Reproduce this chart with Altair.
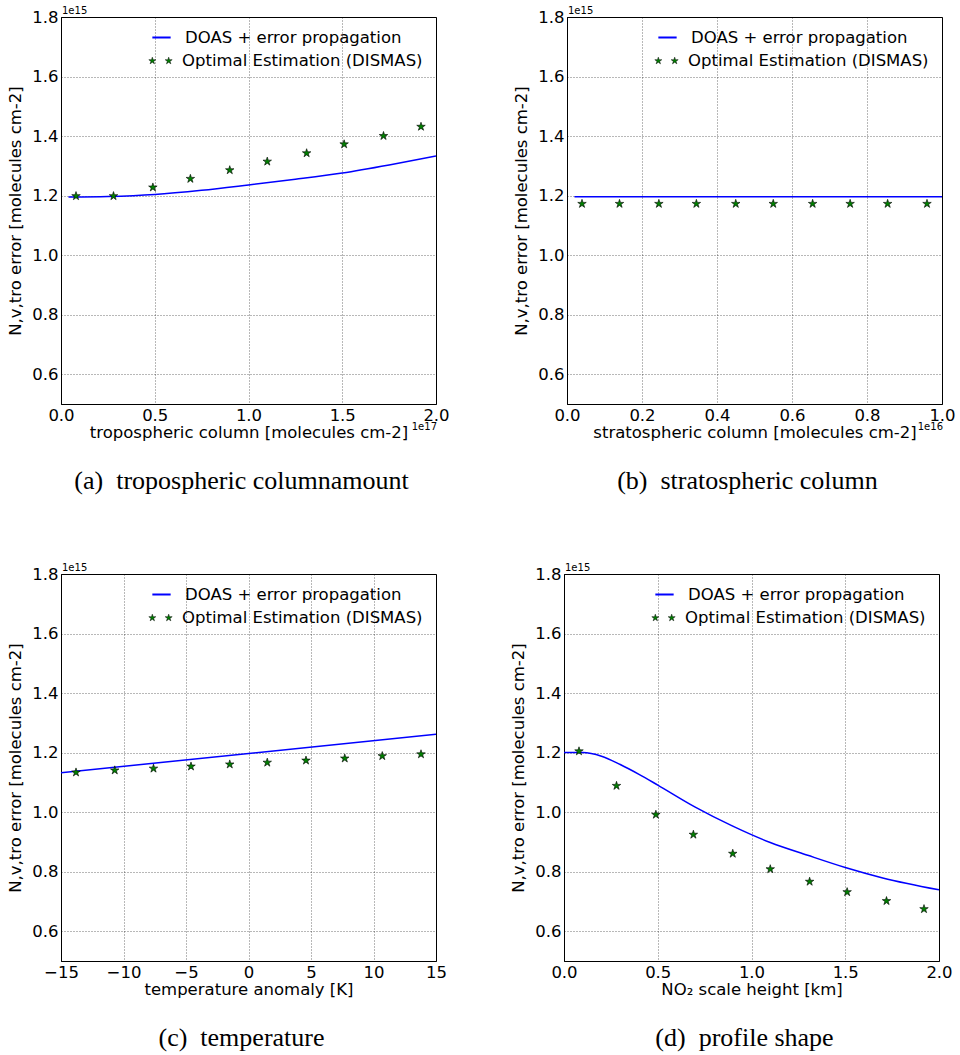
import math
import altair as alt
import pandas as pd

# ---------------- data ----------------
LINE_NAME = "DOAS + error propagation"
PTS_NAME = "Optimal Estimation (DISMAS)"

Y_TICKS = [0.6, 0.8, 1.0, 1.2, 1.4, 1.6, 1.8]

# (a) tropospheric column (x in 1e17 molecules cm-2, y in 1e15)
a_line_x = [0.04, 0.25, 0.5, 0.75, 1.0, 1.25, 1.5, 1.75, 2.0]
a_line_y = [1.195, 1.197, 1.204, 1.218, 1.236, 1.255, 1.276, 1.303, 1.333]
a_pts_x = [0.08, 0.28, 0.49, 0.69, 0.90, 1.10, 1.31, 1.51, 1.72, 1.92]
a_pts_y = [1.200, 1.200, 1.229, 1.258, 1.287, 1.316, 1.344, 1.374, 1.402, 1.433]
a_xticks = [0.0, 0.5, 1.0, 1.5, 2.0]

# (b) stratospheric column (x in 1e16)
b_line_x = [0.02, 1.0]
b_line_y = [1.196, 1.196]
b_pts_x = [0.04, 0.14, 0.245, 0.345, 0.45, 0.55, 0.655, 0.755, 0.855, 0.96]
b_pts_y = [1.174, 1.174, 1.174, 1.174, 1.174, 1.174, 1.174, 1.174, 1.174, 1.174]
b_xticks = [0.0, 0.2, 0.4, 0.6, 0.8, 1.0]

# (c) temperature anomaly [K]
c_line_x = [-15, 15]
c_line_y = [1.1325, 1.2615]
c_pts_x = [-13.8, -10.7, -7.6, -4.6, -1.5, 1.5, 4.6, 7.7, 10.7, 13.8]
c_pts_y = [1.135, 1.142, 1.148, 1.155, 1.162, 1.168, 1.175, 1.182, 1.190, 1.196]
c_xticks = [-15, -10, -5, 0, 5, 10, 15]

# (d) NO2 scale height [km]
d_line_x = [0.0, 0.1, 0.2, 0.3, 0.4, 0.5, 0.7, 0.9, 1.1, 1.3, 1.5, 1.7, 2.0]
d_line_y = [1.200, 1.200, 1.188, 1.160, 1.127, 1.091, 1.017, 0.953, 0.898, 0.855, 0.814, 0.779, 0.739]
d_pts_x = [0.08, 0.28, 0.49, 0.69, 0.90, 1.10, 1.31, 1.51, 1.72, 1.92]
d_pts_y = [1.206, 1.090, 0.993, 0.926, 0.862, 0.810, 0.768, 0.733, 0.703, 0.676]
d_xticks = [0.0, 0.5, 1.0, 1.5, 2.0]

# ---------------- styling ----------------
FONT = "DejaVu Sans"
SERIF = "Liberation Serif"
BLUE = "#0000ff"
GREEN = "#008000"
FS = 16.5
Y_TITLE = "N,v,tro error [molecules cm-2]"


def star(cx, cy, r):
    pts = []
    for i in range(10):
        ang = math.radians(-90 + 36 * i)
        rr = r if i % 2 == 0 else r * 0.382
        pts.append((cx + rr * math.cos(ang), cy + rr * math.sin(ang)))
    return "M" + "L".join(f"{x:.4f},{y:.4f}" for x, y in pts) + "Z"


STAR = star(0, 0.095, 1.0)
TWO_STARS = star(-0.69, 0.03, 0.31) + star(0.69, 0.03, 0.31)


def panel(lx, ly, px, py, xdom, xticks, xfmt, xtitle, exp_label, caption):
    line_df = pd.DataFrame({"x": lx, "y": ly, "series": LINE_NAME})
    pts_df = pd.DataFrame({"x": px, "y": py, "series": PTS_NAME})
    xscale = alt.Scale(domain=xdom, nice=False, zero=False)
    yscale = alt.Scale(domain=[0.5, 1.8], nice=False, zero=False)
    xaxis = alt.Axis(values=xticks, format=xfmt, title=xtitle, labelPadding=3,
                     titlePadding=1, labelFlush=False, labelOverlap=False)
    yaxis = alt.Axis(values=Y_TICKS, format=".1f", title=Y_TITLE, labelPadding=3,
                     titlePadding=8, labelOverlap=False)

    line = alt.Chart(line_df).mark_line(strokeWidth=1.5, clip=True,
                                        interpolate="monotone").encode(
        x=alt.X("x:Q", scale=xscale, axis=xaxis),
        y=alt.Y("y:Q", scale=yscale, axis=yaxis),
        color=alt.Color(
            "series:N",
            scale=alt.Scale(domain=[LINE_NAME], range=[BLUE]),
            legend=alt.Legend(title=None, orient="none", legendX=90, legendY=10,
                              symbolType="stroke", symbolSize=335, symbolStrokeWidth=2,
                              labelOffset=13, labelFontSize=FS, labelFont=FONT,
                              labelColor="black", labelLimit=0, padding=0),
        ),
    )
    pts = alt.Chart(pts_df).mark_point(shape=STAR, filled=True, size=80, stroke="black",
                                       strokeWidth=0.6, opacity=1).encode(
        x=alt.X("x:Q", scale=xscale),
        y=alt.Y("y:Q", scale=yscale),
        fill=alt.Fill(
            "series:N",
            scale=alt.Scale(domain=[PTS_NAME], range=[GREEN]),
            legend=alt.Legend(title=None, orient="none", legendX=87, legendY=31,
                              symbolType=TWO_STARS, symbolSize=562,
                              symbolStrokeColor="black", symbolStrokeWidth=0.5,
                              symbolOpacity=1,
                              labelOffset=9, labelFontSize=FS, labelFont=FONT,
                              labelColor="black", labelLimit=0, padding=0),
        ),
    )
    top_df = pd.DataFrame({"x": [xdom[0]], "y": [1.8], "t": ["1e15"]})
    top_txt = alt.Chart(top_df).mark_text(align="left", baseline="alphabetic", dx=1, dy=-3,
                                          fontSize=10, font=FONT, color="black").encode(
        x=alt.X("x:Q", scale=xscale), y=alt.Y("y:Q", scale=yscale), text="t:N")
    layers = [line, pts, top_txt]
    if exp_label:
        exp_df = pd.DataFrame({"x": [xdom[1]], "y": [0.5], "t": [exp_label]})
        exp_txt = alt.Chart(exp_df).mark_text(align="right", baseline="alphabetic", dx=1,
                                              dy=26, fontSize=10, font=FONT,
                                              color="black").encode(
            x=alt.X("x:Q", scale=xscale), y=alt.Y("y:Q", scale=yscale), text="t:N")
        layers.append(exp_txt)
    return alt.layer(*layers).properties(
        width=375, height=387,
        title=alt.TitleParams(caption, orient="bottom", font=SERIF, fontSize=26,
                              fontWeight="normal", color="black", offset=27,
                              anchor="middle", frame="group", dx=-7),
    )


pa = panel(a_line_x, a_line_y, a_pts_x, a_pts_y, [0, 2], a_xticks, ".1f",
           "tropospheric column [molecules cm-2]", "1e17",
           "(a)\u2002tropospheric columnamount")
pb = panel(b_line_x, b_line_y, b_pts_x, b_pts_y, [0, 1], b_xticks, ".1f",
           "stratospheric column [molecules cm-2]", "1e16",
           "(b)\u2002stratospheric column")
pc = panel(c_line_x, c_line_y, c_pts_x, c_pts_y, [-15, 15], c_xticks, "d",
           "temperature anomaly [K]", None, "(c)\u2002temperature")
pd_ = panel(d_line_x, d_line_y, d_pts_x, d_pts_y, [0, 2], d_xticks, ".1f",
            "NO\u2082 scale height [km]", None, "(d)\u2002profile shape")

res = dict(color="independent", fill="independent")
row1 = alt.hconcat(pa, pb, spacing=63).resolve_scale(**res).resolve_legend(**res)
row2 = alt.hconcat(pc, pd_, spacing=63).resolve_scale(**res).resolve_legend(**res)

chart = alt.vconcat(row1, row2, spacing=67).resolve_scale(**res).resolve_legend(**res).properties(
    padding={"left": 7, "top": 5, "right": 0, "bottom": 0},
    background="white",
).configure_view(stroke="black", strokeWidth=1).configure_axis(
    domainColor="black", domainWidth=1, ticks=False,
    grid=True, gridColor="#000000", gridWidth=0.7, gridDash=[1, 2], gridOpacity=0.8,
    labelFont=FONT, labelFontSize=FS, labelColor="black",
    titleFont=FONT, titleFontSize=FS, titleFontWeight="normal", titleColor="black",
).configure_legend(labelFont=FONT)

chart.save("out.html", embed_options={"renderer": "svg", "actions": False})
